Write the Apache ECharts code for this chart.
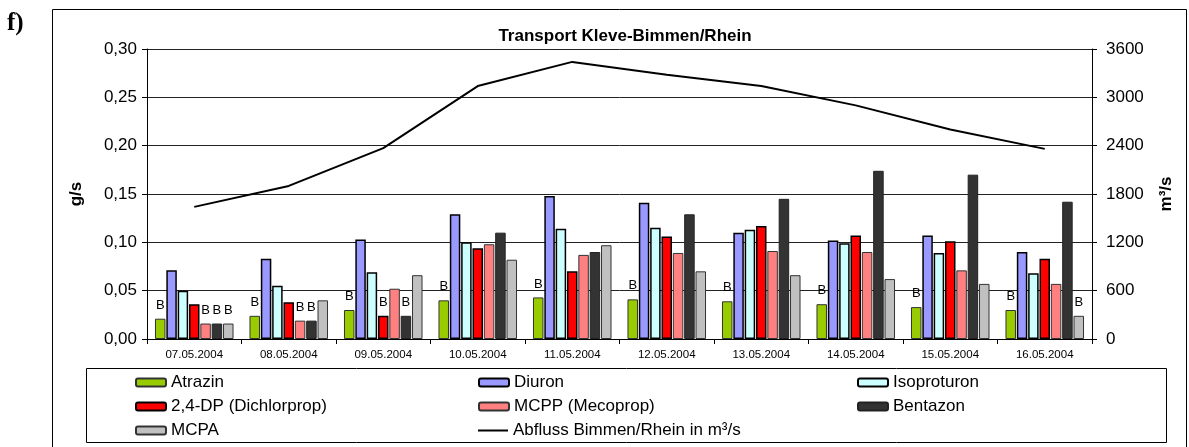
<!DOCTYPE html>
<html>
<head>
<meta charset="utf-8">
<script src="https://cdn.jsdelivr.net/npm/echarts@6/dist/echarts.min.js"></script>
<style>
html,body{margin:0;padding:0;background:#fff;}
#chart{width:1189px;height:447px;}
</style>
</head>
<body>
<div id="chart"></div>
<script>
var categories = ['07.05.2004','08.05.2004','09.05.2004','10.05.2004','11.05.2004','12.05.2004','13.05.2004','14.05.2004','15.05.2004','16.05.2004'];
var atrazin     = [0.021,0.024,0.030,0.040,0.043,0.041,0.039,0.036,0.033,0.030];
var diuron      = [0.071,0.083,0.103,0.129,0.148,0.141,0.110,0.102,0.107,0.090];
var isoproturon = [0.050,0.055,0.069,0.100,0.114,0.115,0.113,0.099,0.089,0.068];
var dichlorprop = [0.036,0.038,0.024,0.094,0.070,0.106,0.117,0.107,0.101,0.083];
var mecoprop    = [0.016,0.019,0.052,0.098,0.087,0.089,0.091,0.090,0.071,0.057];
var bentazon    = [0.016,0.019,0.024,0.110,0.090,0.129,0.145,0.174,0.170,0.142];
var mcpa        = [0.016,0.040,0.066,0.082,0.097,0.070,0.066,0.062,0.057,0.024];
var abfluss     = [1640,1900,2370,3140,3440,3280,3140,2900,2600,2360];
// "B" markers (below determination limit) per series and day
var atrazinB     = [1,1,1,1,1,1,1,1,1,1];
var diuronB      = [0,0,0,0,0,0,0,0,0,0];
var isoproturonB = [0,0,0,0,0,0,0,0,0,0];
var dichlorpropB = [0,0,1,0,0,0,0,0,0,0];
var mecopropB    = [1,1,0,0,0,0,0,0,0,0];
var bentazonB    = [1,1,1,0,0,0,0,0,0,0];
var mcpaB        = [1,0,0,0,0,0,0,0,0,1];
var leftTicks  = [0, 0.30, 0.05];
var rightTicks = [0, 3600, 600];

var FONT = "'Liberation Sans', Arial, sans-serif";
var chart = echarts.init(document.getElementById('chart'), null, {renderer:'canvas'});

function barSeries(name, data, flags, color, bw, bc) {
  return {
    name: name, type: 'bar', data: data, yAxisIndex: 0,
    barWidth: 10.5, barGap: '8%',
    itemStyle: {color: color, borderColor: bc, borderWidth: bw},
    label: {
      show: true, position: 'top', distance: 7,
      fontFamily: FONT, fontSize: 13, color: '#000',
      formatter: function (p) { return flags[p.dataIndex] ? 'B' : ''; }
    },
    emphasis: {disabled: true}
  };
}

var legendText = {fontFamily: FONT, fontSize: 17, color: '#000', lineHeight: 17};
function legendCol(names, left, top, h) {
  return {data: names, orient: 'vertical', left: left, top: top, padding: 0,
    itemWidth: 30, itemHeight: h, itemGap: 7, textStyle: legendText, selectedMode: false};
}

var option = {
  animation: false,
  backgroundColor: '#fff',
  title: {
    text: 'Transport Kleve-Bimmen/Rhein',
    left: 620, top: 23, textAlign: 'center',
    textStyle: {fontFamily: FONT, fontSize: 17, fontWeight: 'bold', color: '#000'}
  },
  grid: {left: 147, right: 97, top: 49, bottom: 108, containLabel: false},
  legend: [
    legendCol(['Atrazin','2,4-DP (Dichlorprop)','MCPA'], 135, 374, 8),
    legendCol(['Diuron','MCPP (Mecoprop)'], 478, 374, 8),
    legendCol([{name: 'Abfluss Bimmen/Rhein in m³/s', icon: 'rect'}], 478, 422, 2),
    legendCol(['Isoproturon','Bentazon'], 857, 374, 8)
  ],
  xAxis: {
    type: 'category', data: categories,
    axisLine: {lineStyle: {color: '#000', width: 1}},
    axisTick: {show: true, alignWithLabel: false, length: 5, lineStyle: {color: '#000'}},
    axisLabel: {fontFamily: FONT, fontSize: 11.5, color: '#000', margin: 10, interval: 0}
  },
  yAxis: [
    {
      type: 'value', min: leftTicks[0], max: leftTicks[1], interval: leftTicks[2],
      name: 'g/s', nameLocation: 'middle', nameRotate: 90, nameGap: 62,
      nameTextStyle: {fontFamily: FONT, fontSize: 17, fontWeight: 'bold', color: '#000'},
      axisLine: {show: true, lineStyle: {color: '#000'}},
      axisTick: {show: true, length: 5, lineStyle: {color: '#000'}},
      axisLabel: {fontFamily: FONT, fontSize: 17, color: '#000', margin: 10,
        formatter: function (v) { return v.toFixed(2).replace('.', ','); }},
      splitLine: {show: true, lineStyle: {color: '#222', width: 1}}
    },
    {
      type: 'value', min: rightTicks[0], max: rightTicks[1], interval: rightTicks[2],
      name: 'm³/s', nameLocation: 'middle', nameRotate: 90, nameGap: 66,
      nameTextStyle: {fontFamily: FONT, fontSize: 17, fontWeight: 'bold', color: '#000'},
      axisLine: {show: true, lineStyle: {color: '#000'}},
      axisTick: {show: true, length: 5, lineStyle: {color: '#000'}},
      axisLabel: {fontFamily: FONT, fontSize: 17, color: '#000', margin: 14,
        formatter: function (v) { return String(v); }},
      splitLine: {show: false}
    }
  ],
  series: [
    barSeries('Atrazin', atrazin, atrazinB, '#99CC00', 1, '#333'),
    barSeries('Diuron', diuron, diuronB, '#9999FF', 1.5, '#000'),
    barSeries('Isoproturon', isoproturon, isoproturonB, '#CCFFFF', 1.5, '#000'),
    barSeries('2,4-DP (Dichlorprop)', dichlorprop, dichlorpropB, '#FF0000', 1.5, '#000'),
    barSeries('MCPP (Mecoprop)', mecoprop, mecopropB, '#FF8080', 1, '#333'),
    barSeries('Bentazon', bentazon, bentazonB, '#333333', 1, '#222'),
    barSeries('MCPA', mcpa, mcpaB, '#C0C0C0', 1, '#333'),
    {
      name: 'Abfluss Bimmen/Rhein in m³/s', type: 'line', yAxisIndex: 1, data: abfluss,
      symbol: 'none', showSymbol: false,
      lineStyle: {color: '#000', width: 2}, itemStyle: {color: '#000'},
      emphasis: {disabled: true}
    }
  ],
  graphic: [
    {type: 'polyline', silent: true,
     shape: {points: [[52.5, 447], [52.5, 9.5], [1186.5, 9.5], [1186.5, 447]]},
     style: {stroke: '#000', lineWidth: 1, fill: null}},
    {type: 'rect', silent: true,
     shape: {x: 86.5, y: 368.5, width: 1080, height: 74},
     style: {stroke: '#000', lineWidth: 1, fill: null}},
    {type: 'text', silent: true, left: 7, top: 11,
     style: {text: 'f)', font: "bold 25px 'Liberation Serif', 'Times New Roman', serif", fill: '#000'}}
  ]
};
chart.setOption(option);
</script>
</body>
</html>
